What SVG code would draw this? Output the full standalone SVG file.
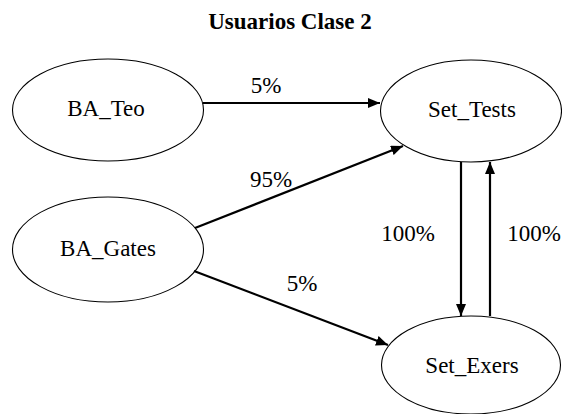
<svg xmlns="http://www.w3.org/2000/svg" width="562" height="414" viewBox="0 0 562 414">
  <style>
    .node { fill: #ffffff; stroke: #000000; stroke-width: 1.1; }
    .edge { stroke: #000000; stroke-width: 2.2; fill: none; marker-end: url(#arrow); }
  </style>
  <defs>
    <marker id="arrow" markerUnits="userSpaceOnUse" markerWidth="12" markerHeight="10" refX="12" refY="5" orient="auto">
      <path d="M0,0 L12,5 L0,10 Z" fill="#000000"/>
    </marker>
  </defs>
  <rect x="0" y="0" width="562" height="414" fill="#ffffff"/>
  <text x="290" y="29" text-anchor="middle" font-family="'Liberation Serif'" font-size="23" font-weight="bold">Usuarios Clase 2</text>

  <g id="BA_Teo">
    <ellipse class="node" cx="108" cy="110" rx="95.5" ry="51"/>
    <text x="106" y="116" text-anchor="middle" font-family="'Liberation Serif'" font-size="23">BA_Teo</text>
  </g>
  <g id="Set_Tests">
    <ellipse class="node" cx="471" cy="111" rx="90.5" ry="51"/>
    <text x="472" y="117" text-anchor="middle" font-family="'Liberation Serif'" font-size="23">Set_Tests</text>
  </g>
  <g id="BA_Gates">
    <ellipse class="node" cx="108" cy="249.5" rx="95.5" ry="52.5"/>
    <text x="108" y="256" text-anchor="middle" font-family="'Liberation Serif'" font-size="23">BA_Gates</text>
  </g>
  <g id="Set_Exers">
    <ellipse class="node" cx="471" cy="365" rx="89.5" ry="49"/>
    <text x="472" y="373" text-anchor="middle" font-family="'Liberation Serif'" font-size="23">Set_Exers</text>
  </g>

  <g id="connectors">
    <line class="edge" x1="203" y1="103" x2="380" y2="103"/>
    <line class="edge" x1="195" y1="228" x2="403" y2="146"/>
    <line class="edge" x1="194" y1="271" x2="388" y2="345"/>
    <line class="edge" x1="461" y1="162" x2="461" y2="316"/>
    <line class="edge" x1="490" y1="316" x2="490" y2="162"/>
    <text x="266" y="93" text-anchor="middle" font-family="'Liberation Serif'" font-size="23">5%</text>
    <text x="271" y="187" text-anchor="middle" font-family="'Liberation Serif'" font-size="23">95%</text>
    <text x="302" y="291" text-anchor="middle" font-family="'Liberation Serif'" font-size="23">5%</text>
    <text x="408" y="241" text-anchor="middle" font-family="'Liberation Serif'" font-size="23">100%</text>
    <text x="534" y="241" text-anchor="middle" font-family="'Liberation Serif'" font-size="23">100%</text>
  </g>
</svg>
